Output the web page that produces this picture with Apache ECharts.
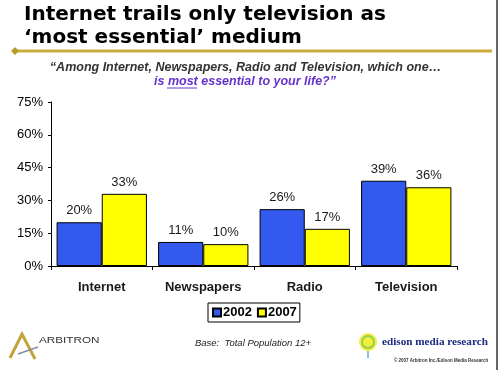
<!DOCTYPE html>
<html>
<head>
<meta charset="utf-8">
<script src="https://cdn.jsdelivr.net/npm/echarts@6/dist/echarts.min.js"></script>
<style>html,body{margin:0;padding:0;background:#fff;}#c{width:500px;height:370px;}</style>
</head>
<body>
<div id="c"></div>
<script>
const categories = ['Internet', 'Newspapers', 'Radio', 'Television'];
const series2002 = [20, 11, 26, 39];
const series2007 = [33, 10, 17, 36];
const seriesNames = ['2002', '2007'];

const FF = '"Liberation Sans", Arial, sans-serif';
const TF = '"DejaVu Sans", "Liberation Sans", sans-serif';
const chart = echarts.init(document.getElementById('c'), null, {renderer: 'canvas'});
const barLabel = {show: true, position: 'top', distance: 5, formatter: '{c}%', fontFamily: FF, fontSize: 13, color: '#1a1a1a'};
chart.setOption({
  animation: false,
  backgroundColor: '#ffffff',
  grid: {left: 51, right: 43, top: 102, bottom: 104},
  legend: {
    data: seriesNames,
    left: 208, top: 303,
    orient: 'horizontal',
    padding: [3, 3, 3, 4],
    itemGap: 5,
    itemWidth: 8, itemHeight: 8,
    icon: 'rect',
    borderColor: '#000', borderWidth: 1,
    textStyle: {fontFamily: FF, fontSize: 13, fontWeight: 'bold', color: '#000', padding: [0, 0, 0, -3]}
  },
  xAxis: {
    type: 'category',
    data: categories,
    axisLine: {lineStyle: {color: '#000', width: 1}},
    axisTick: {show: true, length: 4, lineStyle: {color: '#000'}},
    axisLabel: {fontFamily: FF, fontSize: 13, fontWeight: 'bold', color: '#1a1a1a', margin: 15}
  },
  yAxis: {
    type: 'value', min: 0, max: 75, interval: 15,
    axisLine: {show: true, lineStyle: {color: '#000', width: 1}},
    axisTick: {show: true, length: 3, lineStyle: {color: '#000'}},
    splitLine: {show: false},
    axisLabel: {formatter: '{value}%', fontFamily: FF, fontSize: 13, color: '#000', margin: 8}
  },
  series: [
    {name: seriesNames[0], type: 'bar', data: series2002, barGap: '0%', barCategoryGap: '11%',
     itemStyle: {color: '#3459ee', borderColor: '#000', borderWidth: 1}, label: barLabel},
    {name: seriesNames[1], type: 'bar', data: series2007,
     itemStyle: {color: '#ffff00', borderColor: '#000', borderWidth: 1}, label: barLabel}
  ],
  graphic: [
    {type: 'text', x: 24, y: 15, style: {text: 'Internet trails only television as', font: 'bold 20px ' + TF, fill: '#000', verticalAlign: 'middle'}},
    {type: 'text', x: 24, y: 37.5, style: {text: '\u2018most essential\u2019 medium', font: 'bold 20px ' + TF, fill: '#000', verticalAlign: 'middle'}},
    {type: 'line', shape: {x1: 15, y1: 51, x2: 492, y2: 51}, style: {stroke: '#c9ad3c', lineWidth: 3}},
    {type: 'polygon', shape: {points: [[15, 47], [19, 51], [15, 55], [11, 51]]}, style: {fill: '#b99a2c'}},
    {type: 'text', x: 245.5, y: 68, style: {text: '\u201cAmong Internet, Newspapers, Radio and Television, which one\u2026', font: 'italic bold 12.5px ' + FF, fill: '#333', align: 'center', verticalAlign: 'middle'}},
    {type: 'text', x: 245, y: 82, style: {text: 'is most essential to your life?\u201d', font: 'italic bold 12.5px ' + FF, fill: '#6633cc', align: 'center', verticalAlign: 'middle'}},
    {type: 'line', shape: {x1: 167, y1: 88, x2: 197, y2: 88}, style: {stroke: '#6633cc', lineWidth: 1}},
    {type: 'text', x: 253, y: 343, style: {text: 'Base:  Total Population 12+', font: 'italic 9.5px ' + FF, fill: '#222', align: 'center', verticalAlign: 'middle'}},
    {type: 'polyline', shape: {points: [[10, 358], [22, 334], [35, 359]]}, style: {stroke: '#c4a53a', lineWidth: 3, fill: null}},
    {type: 'line', shape: {x1: 18, y1: 354, x2: 38, y2: 347}, style: {stroke: '#8a8aa8', lineWidth: 1.5}},
    {type: 'text', x: 39, y: 341, scaleX: 1.3, style: {text: 'ARBITRON', font: '9px ' + FF, fill: '#333', verticalAlign: 'middle'}},
    {type: 'circle', shape: {cx: 368, cy: 342, r: 9}, style: {fill: '#f4ee3a'}},
    {type: 'circle', shape: {cx: 368, cy: 342, r: 6}, style: {fill: 'none', stroke: '#8fcf5a', lineWidth: 2}},
    {type: 'line', shape: {x1: 368, y1: 351, x2: 368, y2: 358}, style: {stroke: '#7fc4d8', lineWidth: 2}},
    {type: 'text', x: 382, y: 342, style: {text: 'edison media research', font: 'bold 11.2px "Liberation Serif", "DejaVu Serif", serif', fill: '#1c2a80', verticalAlign: 'middle'}},
    {type: 'text', x: 394, y: 361, style: {text: '\u00a9 2007 Arbitron Inc./Edison Media Research', font: 'bold 4.5px ' + FF, fill: '#333', verticalAlign: 'middle'}},
    {type: 'line', shape: {x1: 497, y1: 0, x2: 497, y2: 370}, style: {stroke: '#333', lineWidth: 1.5}}
  ]
});
</script>
</body>
</html>
